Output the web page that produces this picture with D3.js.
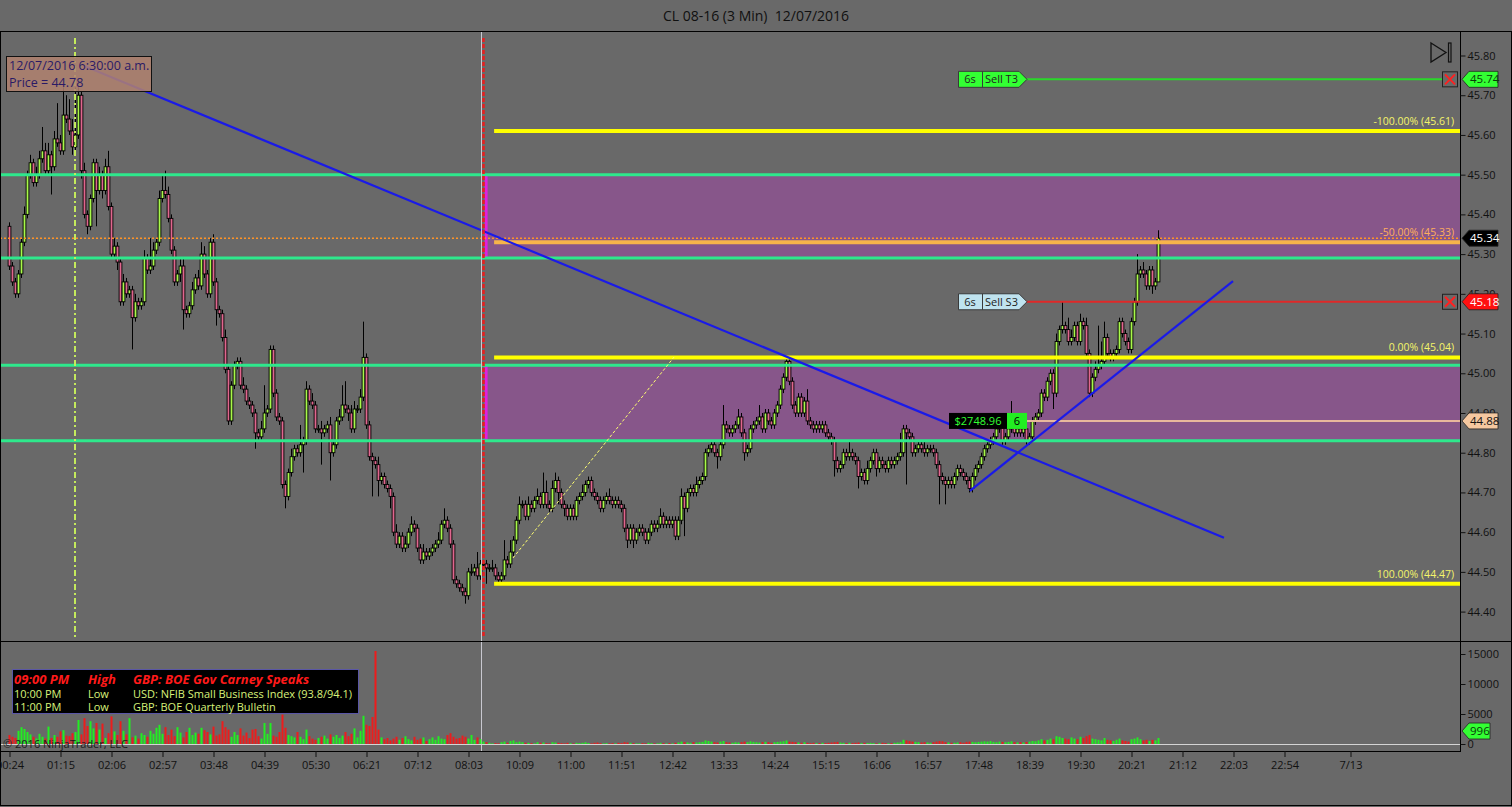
<!DOCTYPE html>
<html><head><meta charset="utf-8">
<script src="https://cdn.jsdelivr.net/npm/d3@7"></script>
<style>
html,body{margin:0;padding:0;background:#696969;overflow:hidden}
svg{display:block}
text{font-family:"Open Sans","Noto Sans",sans-serif}
</style></head><body>
<svg id="c" width="1512" height="807"></svg>
<script>
const firstOpen = 45.37;
const closes = [45.27,45.23,45.20,45.25,45.33,45.40,45.50,45.53,45.48,45.50,
45.54,45.56,45.51,45.55,45.52,45.59,45.58,45.56,45.65,45.64,
45.61,45.57,45.60,45.70,45.51,45.40,45.37,45.44,45.53,45.46,
45.50,45.46,45.52,45.42,45.30,45.32,45.28,45.18,45.23,45.20,
45.21,45.14,45.18,45.17,45.18,45.29,45.26,45.27,45.31,45.33,
45.44,45.46,45.45,45.39,45.31,45.23,45.25,45.27,45.16,45.15,
45.17,45.21,45.24,45.22,45.30,45.25,45.20,45.33,45.23,45.16,
45.15,45.09,45.01,44.88,44.97,45.02,45.03,44.97,44.96,44.93,
44.92,44.90,44.85,44.84,44.86,44.90,44.91,45.06,44.95,44.89,
44.88,44.72,44.69,44.75,44.79,44.81,44.80,44.82,44.83,44.96,
44.93,44.92,44.86,44.86,44.85,44.86,44.87,44.80,44.82,44.88,
44.89,44.92,44.91,44.90,44.86,44.91,44.91,44.94,45.04,44.87,
44.79,44.78,44.77,44.73,44.74,44.72,44.71,44.69,44.60,44.57,
44.59,44.56,44.57,44.60,44.62,44.61,44.56,44.53,44.55,44.54,
44.55,44.56,44.57,44.58,44.62,44.63,44.61,44.57,44.48,44.47,
44.46,44.45,44.44,44.50,44.50,44.51,44.49,44.52,44.52,44.51,
44.51,44.51,44.49,44.48,44.49,44.53,44.52,44.55,44.58,44.63,
44.67,44.67,44.64,44.67,44.66,44.68,44.69,44.67,44.70,44.67,
44.66,44.71,44.73,44.70,44.67,44.66,44.64,44.66,44.64,44.68,
44.69,44.70,44.72,44.73,44.70,44.69,44.68,44.66,44.68,44.69,
44.68,44.67,44.68,44.67,44.66,44.61,44.58,44.61,44.58,44.60,
44.61,44.60,44.58,44.60,44.62,44.61,44.62,44.64,44.62,44.63,
44.62,44.63,44.59,44.63,44.69,44.66,44.70,44.71,44.70,44.72,
44.73,44.74,44.80,44.81,44.82,44.80,44.79,44.82,44.87,44.86,
44.85,44.86,44.87,44.89,44.85,44.80,44.81,44.86,44.87,44.88,
44.89,44.86,44.90,44.88,44.87,44.90,44.92,44.96,44.99,45.03,
44.98,44.92,44.90,44.94,44.90,44.93,44.88,44.87,44.86,44.87,
44.86,44.87,44.85,44.84,44.83,44.78,44.76,44.77,44.80,44.79,
44.80,44.79,44.78,44.74,44.75,44.73,44.76,44.78,44.80,44.76,
44.78,44.77,44.76,44.78,44.77,44.78,44.79,44.80,44.86,44.85,
44.84,44.80,44.81,44.82,44.81,44.80,44.81,44.81,44.80,44.77,
44.74,44.73,44.72,44.73,44.72,44.74,44.76,44.75,44.74,44.73,
44.71,44.74,44.76,44.77,44.79,44.81,44.82,44.83,44.84,44.86,
44.87,44.83,44.84,44.86,44.88,44.85,44.86,44.85,44.86,44.83,
44.84,44.88,44.89,44.90,44.95,44.94,44.98,45.00,44.95,45.08,
45.11,45.12,45.11,45.08,45.09,45.12,45.08,45.13,45.12,45.05,
44.95,44.99,45.01,45.02,45.03,45.09,45.05,45.04,45.05,45.06,
45.13,45.10,45.08,45.06,45.13,45.18,45.25,45.26,45.25,45.22,
45.26,45.22,45.23,45.34];
// upper / lower wick lengths in cents
const wickUp = [1,1,1,1,1,2,1,2,1,2, 2,6,2,3,1,2,9,2,7,5, 5,3,12,2,1,2,1,1,1,1, 2,1,2,4,1,2,1,1,2,1,
1,1,2,1,1,2,1,7,2,1, 2,4,5,2,1,1,1,2,2,1, 1,2,1,2,3,2,1,1,2,1, 1,1,2,1,1,1,1,1,2,1,
1,1,1,1,2,7,1,1,1,1, 1,1,1,1,2,1,1,5,1,2, 1,2,1,1,2,1,1,2,1,1, 2,5,6,1,2,2,1,2,9,1,
1,1,1,2,1,1,1,1,1,2, 1,1,2,1,2,1,1,1,2,1, 1,1,1,2,1,3,1,1,1,1, 1,1,1,1,2,1,4,1,1,1,
1,2,1,1,1,5,1,3,1,1, 2,1,1,2,1,1,2,1,5,3, 1,2,2,1,1,1,1,1,1,1, 1,2,1,1,1,1,1,1,1,1,
2,1,1,1,1,1,1,1,1,1, 1,1,1,1,1,1,1,2,1,1, 1,1,1,1,2,1,1,1,1,2, 1,1,1,1,1,1,1,1,5,1,
1,1,1,2,1,1,1,1,1,1, 3,1,1,1,1,1,1,1,1,1, 1,1,1,1,1,1,3,1,1,1, 1,1,1,1,1,1,1,1,1,1,
3,1,1,1,1,1,2,1,1,1, 1,1,1,1,1,1,1,5,1,1, 1,1,1,1,1,2,1,1,1,1, 1,1,1,1,1,1,1,1,1,1,
1,1,1,1,1,1,1,1,1,1, 2,1,1,1,5,1,1,1,1,1, 1,1,1,1,1,1,1,1,1,2, 1,6,1,3,2,1,1,2,1,2,
1,1,2,10,5,4,1,1,1,1, 1,1,1,1,1,1,5,1,2,1, 1,1,1,2];
const wickDn = [1,1,1,1,1,1,1,1,1,1, 1,1,1,1,7,1,1,1,1,1, 1,2,1,1,2,1,2,1,1,9, 1,2,1,1,1,1,2,1,1,1,
1,8,1,1,1,1,1,1,1,1, 1,1,1,1,1,1,1,2,5,1, 1,1,1,1,1,1,1,1,1,4, 1,1,1,1,1,1,1,1,1,1,
1,1,4,1,1,1,1,1,1,1, 1,1,3,1,1,1,1,1,7,1, 1,1,1,1,8,1,1,7,1,1, 1,1,1,2,1,1,1,1,1,1,
1,9,1,4,1,1,1,3,1,1, 1,1,1,1,1,1,1,1,1,1, 1,1,1,1,1,1,1,1,1,1, 1,1,2,1,1,1,1,1,1,4,
1,1,1,1,1,1,1,1,1,1, 1,1,1,1,1,1,1,1,1,1, 1,1,1,3,1,2,1,1,1,1, 1,1,1,1,1,1,1,1,1,1,
1,1,1,1,1,1,2,1,2,1, 1,1,1,1,1,1,1,1,1,1, 1,1,1,1,1,7,1,1,1,1, 1,1,1,1,1,1,3,1,1,1,
1,1,1,1,1,2,1,1,1,1, 1,1,1,1,1,1,1,1,1,1, 1,1,1,1,1,1,1,1,1,1, 1,1,1,1,1,4,1,1,1,1,
1,1,1,3,1,1,1,1,1,2, 1,1,1,1,1,1,1,1,1,13, 1,1,1,1,1,1,1,1,1,1, 7,1,5,1,1,1,1,1,1,1,
1,1,1,1,1,1,1,1,1,1, 1,1,1,1,1,1,1,1,1,1, 1,1,1,1,1,1,1,1,4,1, 1,1,1,1,1,1,1,1,1,1,
1,1,1,1,1,1,1,1,1,1, 1,1,1,1,1,1,1,1,1,1, 1,2,1,0];
const volumes = [1500,1200,1000,2200,2800,2500,2000,1600,1200,900,
1700,1200,900,2900,1000,1500,1200,2100,2300,1400,
1300,1800,2000,4000,1600,4300,3000,3800,2600,3500,
2400,3400,1000,1800,4600,2100,1500,3800,2200,1600,
4300,1100,1400,900,1800,1500,1200,2200,1700,2700,
3200,1700,2800,1500,2400,1300,2800,1900,1100,2000,
2700,1500,1900,1700,2700,2300,2000,1600,2900,1400,
1600,3800,2800,2400,1200,2000,1500,2600,1400,1900,
1000,2400,2500,1300,900,3500,1700,3500,1400,1200,
2000,4900,2700,1500,1300,1100,2000,1200,800,2400,
1300,900,700,1000,1200,1400,900,1600,1200,1500,
1000,1400,2000,1300,1700,2600,1100,2200,4700,3200,
3000,4500,15500,2400,1100,800,1000,600,900,1200,
700,1000,1300,800,600,1200,700,900,1100,500,
800,1100,700,1300,900,800,1500,1800,1200,900,
1000,1400,1200,900,1500,700,1100,800,400,300,
200,100,150,100,300,400,200,500,600,300,
400,300,200,200,150,100,300,200,250,150,
100,300,250,200,150,100,200,150,100,200,
150,200,300,150,100,200,250,150,100,150,
100,150,100,200,150,300,250,200,150,100,
100,150,100,200,150,100,100,200,150,100,
150,100,200,250,400,300,250,200,300,250,
300,350,600,500,400,300,250,400,500,300,
250,200,300,250,300,400,300,450,350,300,
250,300,350,300,200,300,350,400,450,600,
400,350,300,250,200,300,200,150,200,150,
150,200,150,200,250,300,350,250,200,150,
200,150,200,250,150,200,150,200,150,100,
150,200,150,100,150,200,250,300,700,600,
500,400,350,300,250,300,250,200,300,400,
500,450,300,250,200,200,250,300,200,350,
400,350,300,350,400,450,400,500,350,300,
400,350,300,350,450,300,250,300,250,350,
400,500,450,600,800,600,700,900,800,1300,
1200,1000,900,800,1100,900,800,1200,1000,1300,
1500,900,800,700,600,1000,700,600,500,700,
900,600,500,400,800,900,1100,800,600,700,
500,700,600,996];

const timeTickBars = [0,17,34,51,68,85,102,119,136,153,170,187,204,221,238,255,272,289,306,323,340,357,374,391,408,425,447];
const timeTickLabels = ["00:24","01:15","02:06","02:57","03:48","04:39","05:30","06:21","07:12","08:03","10:09","11:00","11:51","12:42","13:33","14:24","15:15","16:06","16:57","17:48","18:39","19:30","20:21","21:12","22:03","22:54","7/13"];
const priceTicks = [45.80,45.70,45.60,45.50,45.40,45.30,45.20,45.10,45.00,44.90,44.80,44.70,44.60,44.50,44.40];
const volumeTicks = [0,5000,10000,15000];
const supportLevels = [45.50,45.29,45.02,44.83];
const zoneTops = [45.50,45.02];
const zoneBottoms = [45.29,44.83];
const fibPrices = [45.61,45.33,45.04,44.47];
const fibLabels = ["-100.00% (45.61)","-50.00% (45.33)","0.00% (45.04)","100.00% (44.47)"];
const lastPrice = 45.34;
const targetPrice = 45.74, stopPrice = 45.18, entryPrice = 44.88;
const lastVolume = 996;
const trendDown = [[25.3,45.773],[405,44.586]];
const trendUp = [[320.3,44.704],[408,45.232]];
const fibDiag = [[168,44.535],[221.7,45.041]];
const newsTimes = ["09:00 PM","10:00 PM","11:00 PM"];
const newsImpact = ["High","Low","Low"];
const newsEvents = ["GBP: BOE Gov Carney Speaks","USD: NFIB Small Business Index (93.8/94.1)","GBP: BOE Quarterly Bulletin"];

const svg = d3.select("#c");
const W = 1512, H = 807;
const plotR = 1460, priceTop = 31, priceBot = 642, volBot = 751;

const x = d3.scaleLinear().domain([0, 484]).range([9, 9 + 3*484]);
const y = d3.scaleLinear().domain([44.40, 45.80]).range([611.6, 55.5]);
const yv = d3.scaleLinear().domain([0, 15000]).range([744, 654]);

svg.append("rect").attr("width", W).attr("height", H).attr("fill", "#696969");

const defs = svg.append("defs");
defs.append("clipPath").attr("id","pc").append("rect").attr("x",0).attr("y",priceTop).attr("width",plotR).attr("height",priceBot-priceTop);
defs.append("clipPath").attr("id","vc").append("rect").attr("x",0).attr("y",priceBot).attr("width",plotR).attr("height",volBot-priceBot);

// title
svg.append("text").attr("x", 756).attr("y", 21).attr("text-anchor","middle").attr("style","white-space:pre")
  .attr("font-size", 14).attr("fill","#101010").text("CL 08-16 (3 Min)  12/07/2016");

const bars = closes.map((c,i) => {
  const o = i === 0 ? firstOpen : closes[i-1];
  const hi = Math.max(o,c) + wickUp[i]/100, lo = Math.min(o,c) - wickDn[i]/100;
  return {i, o, c, hi, lo, v: volumes[i], up: c >= o};
});

const P = svg.append("g").attr("clip-path","url(#pc)");
// zones
P.selectAll("rect.zone").data(zoneTops).join("rect").attr("class","zone")
  .attr("x", x(158.7)).attr("width", plotR - x(158.7))
  .attr("y", d => y(d)).attr("height", (d,k) => y(zoneBottoms[k]) - y(d))
  .attr("fill", "#87568a");
P.selectAll("line.zedge").data(zoneTops).join("line").attr("class","zedge")
  .attr("x1", x(158.7)+1).attr("x2", x(158.7)+1)
  .attr("y1", d => y(d)).attr("y2", (d,k) => y(zoneBottoms[k]))
  .attr("stroke","#e020e0").attr("stroke-width",3);

// candles
const cg = P.append("g");
cg.selectAll("line.wick").data(bars).join("line")
  .attr("x1", d => Math.round(x(d.i))+0.5).attr("x2", d => Math.round(x(d.i))+0.5)
  .attr("y1", d => y(d.hi)).attr("y2", d => y(d.lo))
  .attr("stroke","#000").attr("stroke-width",1);
cg.selectAll("rect.body").data(bars).join("rect")
  .attr("x", d => Math.round(x(d.i)) - 0.9).attr("width", 2.8)
  .attr("y", d => y(Math.max(d.o,d.c))).attr("height", d => Math.max(1, y(Math.min(d.o,d.c)) - y(Math.max(d.o,d.c))))
  .attr("fill", d => d.up ? "#a8f84a" : "#e0668e").attr("stroke","#000").attr("stroke-width",0.9);

// support lines
P.selectAll("line.sup").data(supportLevels).join("line")
  .attr("x1",0).attr("x2",plotR).attr("y1", d=>y(d)).attr("y2", d=>y(d))
  .attr("stroke","#2ee88c").attr("stroke-width",3);

// fib lines
P.selectAll("line.fib").data(fibPrices).join("line")
  .attr("x1", x(161.7)).attr("x2", plotR).attr("y1", d=>y(d)).attr("y2", d=>y(d))
  .attr("stroke", (d,k) => k===1 ? "#f7b44a" : "#ffff00").attr("stroke-width",4);
P.selectAll("text.fib").data(fibPrices).join("text")
  .attr("x", 1454).attr("y", d => y(d) - 6).attr("text-anchor","end").attr("font-size",10.5)
  .attr("fill", (d,k) => k===1 ? "#ffae5c" : "#f4f46a").text((d,k)=>fibLabels[k]);

// last price dotted
P.append("line").attr("x1",0).attr("x2",plotR).attr("y1",y(lastPrice)).attr("y2",y(lastPrice))
  .attr("stroke","#ff9426").attr("stroke-width",1.5).attr("stroke-dasharray","2,2");

// order lines
P.append("line").attr("x1",1026).attr("x2",1442).attr("y1",y(targetPrice)).attr("y2",y(targetPrice)).attr("stroke","#2ad82a").attr("stroke-width",2);
P.append("line").attr("x1",1026).attr("x2",1442).attr("y1",y(stopPrice)).attr("y2",y(stopPrice)).attr("stroke","#e02828").attr("stroke-width",2);
P.append("line").attr("x1",1027).attr("x2",plotR).attr("y1",y(entryPrice)).attr("y2",y(entryPrice)).attr("stroke","#e8b89c").attr("stroke-width",2);

// trend lines
const ln = d3.line().x(d=>x(d[0])).y(d=>y(d[1]));
P.append("path").attr("d", ln(fibDiag)).attr("stroke","#ffff70").attr("stroke-width",1).attr("stroke-dasharray","3,2").attr("fill","none");
P.append("path").attr("d", ln(trendDown)).attr("stroke","#1a1ae8").attr("stroke-width",2.2).attr("fill","none");
P.append("path").attr("d", ln(trendUp)).attr("stroke","#1a1ae8").attr("stroke-width",2.2).attr("fill","none");

// vertical markers
svg.append("line").attr("x1",481.5).attr("x2",481.5).attr("y1",priceTop).attr("y2",volBot).attr("stroke","#c8c8d0").attr("stroke-width",1);
svg.append("line").attr("x1",483.5).attr("x2",483.5).attr("y1",38).attr("y2",637).attr("stroke","#e81e1e").attr("stroke-width",2.5).attr("stroke-dasharray","4,2");
svg.append("line").attr("x1",x(22)).attr("x2",x(22)).attr("y1",38).attr("y2",637).attr("stroke","#c4ea5c").attr("stroke-width",2).attr("stroke-dasharray","6,3,2,3");

// tooltip
svg.append("rect").attr("x",6.5).attr("y",56.5).attr("width",145).attr("height",35).attr("fill","rgba(178,130,112,0.85)").attr("stroke","#111");
svg.append("text").attr("x",9).attr("y",70).attr("font-size",12.5).attr("fill","#2a1a66").text("12/07/2016 6:30:00 a.m.");
svg.append("text").attr("x",9).attr("y",87).attr("font-size",12.5).attr("fill","#2a1a66").text("Price = 44.78");

// play icon
svg.append("path").attr("d","M1431,43 L1446,52.5 L1431,62 Z").attr("fill","none").attr("stroke","#111").attr("stroke-width",1.3);
svg.append("rect").attr("x",1448.5).attr("y",43).attr("width",2.5).attr("height",19).attr("fill","none").attr("stroke","#111").attr("stroke-width",1.2);

// order labels
function orderLabel(py, bg, name){
  const g = svg.append("g");
  g.append("path").attr("d",`M958.5,${py-8} L1019,${py-8} L1027,${py} L1019,${py+8} L958.5,${py+8} Z`).attr("fill",bg).attr("stroke","#3a3a3a");
  g.append("line").attr("x1",982.5).attr("x2",982.5).attr("y1",py-8).attr("y2",py+8).attr("stroke","#3a3a3a");
  g.append("text").attr("x",970).attr("y",py+4).attr("text-anchor","middle").attr("font-size",11).attr("fill","#222").text("6s");
  g.append("text").attr("x",985).attr("y",py+4).attr("font-size",11).attr("fill","#222").text(name);
  g.append("rect").attr("x",1442.5).attr("y",py-7.5).attr("width",15).attr("height",15).attr("fill","none").attr("stroke","#222");
  g.append("path").attr("d",`M1445,${py-5} L1455,${py+5} M1455,${py-5} L1445,${py+5}`).attr("stroke","#ff2020").attr("stroke-width",2);
}
orderLabel(y(targetPrice), "#33ff33", "Sell T3");
orderLabel(y(stopPrice), "#bfe3ef", "Sell S3");

// position label
const ey = y(entryPrice);
svg.append("rect").attr("x",949).attr("y",ey-8).attr("width",58).attr("height",16).attr("fill","#000");
svg.append("text").attr("x",978).attr("y",ey+4).attr("text-anchor","middle").attr("font-size",11).attr("fill","#33ff33").text("$2748.96");
svg.append("rect").attr("x",1007).attr("y",ey-8).attr("width",20).attr("height",16).attr("fill","#22ee22");
svg.append("text").attr("x",1017).attr("y",ey+4).attr("text-anchor","middle").attr("font-size",11).attr("fill","#000").text("6");

// volume panel
const V = svg.append("g").attr("clip-path","url(#vc)");
V.selectAll("rect.vol").data(bars).join("rect")
  .attr("x", d => Math.round(x(d.i)) - 0.5).attr("width", 2)
  .attr("y", d => yv(d.v)).attr("height", d => yv(0) - yv(d.v))
  .attr("fill", d => d.up ? "#22ee22" : "#ee1c1c");
svg.append("line").attr("x1",0).attr("x2",plotR).attr("y1",744.5).attr("y2",744.5).attr("stroke","#d4d4d4").attr("stroke-width",1);

// news box
svg.append("rect").attr("x",12.5).attr("y",669.5).attr("width",346).attr("height",44).attr("fill","#000").attr("stroke","#5a56a6");
const rowY = [684, 698, 711];
newsTimes.forEach((t,k) => {
  const big = k === 0;
  const col = big ? "#ff1a1a" : "#d8f27a";
  const fs = big ? 13 : 11;
  [[14,t],[88,newsImpact[k]],[133,newsEvents[k]]].forEach(([tx,s]) => {
    svg.append("text").attr("x",tx).attr("y",rowY[k]).attr("font-size",fs).attr("fill",col)
      .attr("font-weight", big ? "bold" : "normal").attr("font-style", big ? "italic" : "normal").text(s);
  });
});
svg.append("text").attr("x",3).attr("y",748).attr("font-size",11).attr("fill","#1c1c1c").text("© 2016 NinjaTrader, LLC");

// frame lines
svg.append("line").attr("x1",0).attr("x2",W).attr("y1",31.5).attr("y2",31.5).attr("stroke","#000");
svg.append("line").attr("x1",0.5).attr("x2",0.5).attr("y1",31).attr("y2",805).attr("stroke","#000");
svg.append("line").attr("x1",0).attr("x2",W).attr("y1",priceBot-0.5).attr("y2",priceBot-0.5).attr("stroke","#000");
svg.append("line").attr("x1",0).attr("x2",plotR).attr("y1",volBot+0.5).attr("y2",volBot+0.5).attr("stroke","#000");
svg.append("line").attr("x1",plotR+0.5).attr("x2",plotR+0.5).attr("y1",31).attr("y2",volBot+1).attr("stroke","#000");
svg.append("line").attr("x1",0).attr("x2",W).attr("y1",805.5).attr("y2",805.5).attr("stroke","#000");
svg.append("line").attr("x1",W-0.5).attr("x2",W-0.5).attr("y1",31).attr("y2",806).attr("stroke","#000");

// axes
function styleAxis(g){
  g.select(".domain").remove();
  g.selectAll("line").attr("stroke","#111");
  g.selectAll("text").attr("fill","#111").attr("font-size",11).attr("font-family",'"Open Sans","Noto Sans",sans-serif');
}
svg.append("g").attr("transform",`translate(${plotR+0.5},0)`)
  .call(d3.axisRight(y).tickValues(priceTicks).tickSize(5).tickPadding(2).tickFormat(d=>d.toFixed(2))).call(styleAxis);
svg.append("g").attr("transform",`translate(${plotR+0.5},0)`)
  .call(d3.axisRight(yv).tickValues(volumeTicks).tickSize(5).tickPadding(2).tickFormat(d3.format("d"))).call(styleAxis);
svg.append("g").attr("transform",`translate(0.5,${volBot})`)
  .call(d3.axisBottom(x).tickValues(timeTickBars).tickSize(6).tickPadding(4).tickFormat((d,k)=>timeTickLabels[k])).call(styleAxis);

// right tags
function tag(py, txt, bg, fg, w){
  svg.append("path").attr("d",`M1462,${py} L1469,${py-8} L${1469+w},${py-8} L${1469+w},${py+8} L1469,${py+8} Z`)
    .attr("fill",bg).attr("stroke","#222").attr("stroke-width",0.8);
  svg.append("text").attr("x",1470).attr("y",py+4).attr("font-size",11.5).attr("fill",fg).text(txt);
}
tag(y(targetPrice), targetPrice.toFixed(2), "#33ff33", "#0a3a0a", 29);
tag(y(lastPrice), lastPrice.toFixed(2), "#000", "#fff", 29);
tag(y(stopPrice), stopPrice.toFixed(2), "#ff1010", "#fff", 29);
tag(y(entryPrice), entryPrice.toFixed(2), "#f5c8a0", "#111", 29);
tag(yv(lastVolume)-7, String(lastVolume), "#33ff33", "#0a3a0a", 21);
</script>
</body></html>
